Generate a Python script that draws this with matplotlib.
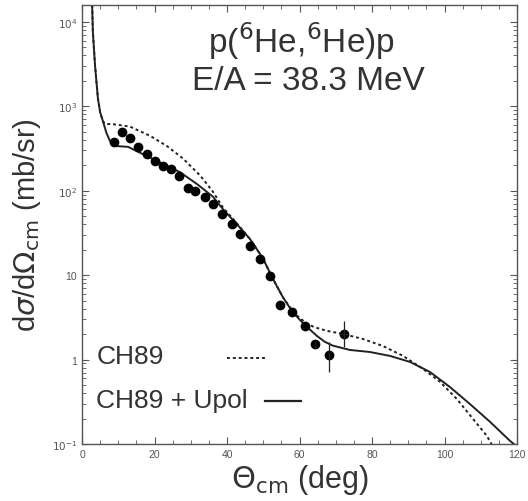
import matplotlib.pyplot as plt
from matplotlib.ticker import FixedLocator, LogLocator, NullFormatter, MultipleLocator

plt.rcParams['font.family'] = ['Liberation Sans', 'DejaVu Sans']

# ------------------ data ------------------
theta_data = [8.8, 11.0, 13.2, 15.4, 17.9, 20.1, 22.3, 24.6, 26.8, 29.2, 31.2,
              33.9, 36.1, 38.6, 41.4, 43.6, 46.3, 49.1, 51.9, 54.6, 57.9,
              61.5, 64.3, 68.1, 72.3]
xs_data = [379, 497, 422, 330, 273, 225, 197, 181, 150, 108, 99.5,
           84.5, 69.8, 53.1, 40.4, 30.8, 22.2, 15.6, 9.8, 4.43, 3.66,
           2.50, 1.53, 1.13, 2.01]
# error bars only on the last few points
err_theta = [64.3, 68.1, 72.3]
err_val = [1.53, 1.13, 2.01]
err_lo = [1.38, 0.71, 1.41]
err_hi = [1.68, 1.62, 2.86]

# CH89 + Upol (solid), log10 of cross section
th_solid = [2.8, 3.0, 3.6, 4.4, 5.0, 5.8, 6.7, 7.7, 9.1, 12.7, 17.9, 22.3, 27.0,
            31.7, 36.1, 38.9, 42.8, 46.3, 49.9, 52.5, 55.4, 58.0, 60.1, 62.5,
            64.8, 67.0, 69.2, 73.9, 79.4, 85.0, 90.5, 96.0, 101.5, 107.0,
            112.6, 118.1, 120.0]
log_solid = [4.20, 3.88, 3.48, 3.09, 2.93, 2.82, 2.69, 2.59, 2.53, 2.52, 2.41, 2.32,
             2.22, 2.08, 1.93, 1.78, 1.60, 1.43, 1.20, 0.97, 0.74, 0.57, 0.47,
             0.37, 0.28, 0.21, 0.165, 0.114, 0.09, 0.043, -0.028, -0.147,
             -0.325, -0.526, -0.739, -0.964, -1.03]
# CH89 (dotted)
th_dash = [2.8, 3.0, 3.6, 4.4, 5.0, 5.8, 6.6, 8.3, 13.2, 18.8, 23.4, 27.9, 32.6,
           36.1, 38.9, 42.8, 46.3, 49.9, 52.5, 55.4, 58.0, 60.1, 62.0, 64.0,
           67.6, 72.0, 77.5, 83.0, 88.6, 94.1, 98.8, 103.4, 107.9, 111.7, 113.4]
log_dash = [4.20, 3.88, 3.48, 3.09, 2.93, 2.82, 2.79, 2.79, 2.76, 2.65, 2.53, 2.38,
            2.18, 1.99, 1.80, 1.61, 1.43, 1.20, 0.97, 0.74, 0.58, 0.49, 0.43,
            0.385, 0.34, 0.303, 0.244, 0.161, 0.043, -0.111, -0.265, -0.467,
            -0.704, -0.905, -1.035]

ytick_vals = [0.1, 1, 10, 100, 1000, 10000]
ytick_labels = ['$10^{-1}$', '1', '10', '$10^{2}$', '$10^{3}$', '$10^{4}$']
xtick_vals = [0, 20, 40, 60, 80, 100, 120]

ink = '#222222'
txt = '#333333'

fig = plt.figure(figsize=(5.28, 5.02), dpi=100)
ax = fig.add_axes([82 / 528, 1 - 445 / 502, 435 / 528, 439 / 502])

ax.plot(th_solid, [10 ** v for v in log_solid], '-', color=ink, lw=1.4)
ax.plot(th_dash, [10 ** v for v in log_dash], linestyle=(0, (1.5, 1.5)), color=ink, lw=1.4)
ax.plot(theta_data, xs_data, 'o', color='black', ms=6)
ax.errorbar(err_theta, err_val,
            yerr=[[v - l for v, l in zip(err_val, err_lo)],
                  [h - v for v, h in zip(err_val, err_hi)]],
            xerr=[0, 0, 1.2], fmt='none', ecolor=ink, lw=0.9)

ax.set_yscale('log')
ax.set_xlim(0, 120)
ax.set_ylim(0.1, 10 ** 4.2)

ax.yaxis.set_major_locator(FixedLocator(ytick_vals))
ax.set_yticklabels(ytick_labels)
ax.yaxis.set_minor_locator(LogLocator(base=10, subs=range(2, 10)))
ax.yaxis.set_minor_formatter(NullFormatter())
ax.xaxis.set_major_locator(FixedLocator(xtick_vals))
ax.xaxis.set_minor_locator(MultipleLocator(5))

ax.tick_params(which='both', direction='in', top=True, right=True,
               colors='#555555', labelsize=7.5)
ax.tick_params(which='major', length=5, width=0.8)
ax.tick_params(which='minor', length=3, width=0.6)
for s in ax.spines.values():
    s.set_color('#555555')
    s.set_linewidth(1.0)

ax.set_ylabel(r'd$\sigma$/d$\Omega_{\rm cm}$ (mb/sr)', fontsize=21, color=txt, labelpad=6)
ax.set_xlabel(r'$\Theta_{\rm cm}$ (deg)', fontsize=22, color=txt, labelpad=2)

ax.text(0.505, 0.92, r'p($^6$He,$^6$He)p', transform=ax.transAxes,
        ha='center', va='center', fontsize=24, color=txt)
ax.text(0.52, 0.828, 'E/A = 38.3 MeV', transform=ax.transAxes,
        ha='center', va='center', fontsize=24, color=txt)

ax.text(4, 1.1, 'CH89', fontsize=19, color=txt, va='center')
ax.text(4, 0.33, 'CH89 + Upol', fontsize=19, color=txt, va='center')
ax.plot([40, 50.5], [1.05, 1.05], linestyle=(0, (1.5, 1.5)), color=ink, lw=1.4)
ax.plot([50.5, 60.5], [0.32, 0.32], '-', color=ink, lw=1.6)

fig.savefig('out.png', dpi=100)
